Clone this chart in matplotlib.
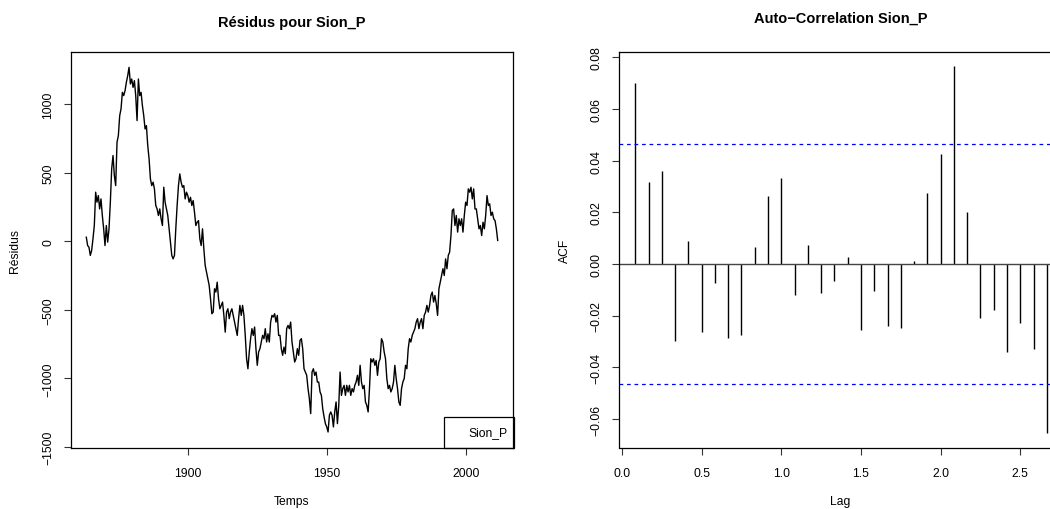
import numpy as np
import matplotlib
matplotlib.use("Agg")
import matplotlib.pyplot as plt
from matplotlib.patches import Rectangle

plt.rcParams['font.family'] = ['Liberation Sans', 'DejaVu Sans']

# residuals of Sion_P (about two points per year)
residus = [29, -32, -44, -104, -68, 17, 114, 357, 284, 332, 235, 308, 187, 90, -32, 114,
           -7, 90, 284, 527, 624, 478, 405, 721, 769, 915, 964, 1085, 1061, 1097, 1158, 1206,
           1267, 1146, 1182, 1121, 1170, 1061, 879, 1182, 1061, 1085, 988, 915, 818, 842, 697, 600,
           454, 405, 430, 381, 260, 235, 187, 235, 163, 114, 393, 284, 235, 187, 90, -7,
           -104, -129, -104, 90, 260, 405, 490, 430, 393, 405, 308, 357, 332, 284, 320, 260,
           296, 211, 114, 138, 150, 17, -32, 90, -56, -177, -226, -274, -323, -420, -529, -517,
           -347, -371, -299, -420, -493, -468, -444, -541, -663, -517, -493, -565, -517, -493, -541, -590,
           -638, -687, -565, -468, -541, -468, -541, -687, -857, -930, -808, -711, -638, -687, -626, -784,
           -905, -808, -784, -735, -687, -711, -638, -735, -675, -735, -590, -541, -553, -529, -590, -541,
           -687, -687, -784, -832, -772, -820, -638, -614, -638, -590, -735, -808, -881, -857, -784, -832,
           -723, -711, -784, -930, -954, -978, -1075, -1148, -1257, -954, -930, -978, -954, -1027, -1027, -1099,
           -1124, -1221, -1281, -1330, -1354, -1391, -1269, -1245, -1269, -1354, -1245, -1172, -1330, -1197, -954, -1124,
           -1075, -1051, -1124, -1051, -1099, -1051, -1124, -1075, -1099, -1051, -1027, -978, -1051, -905, -1027, -1075,
           -1051, -1172, -1197, -1245, -1075, -857, -881, -857, -905, -869, -978, -881, -857, -711, -735, -808,
           -857, -1002, -1075, -1051, -1099, -1075, -1027, -905, -1002, -1075, -1172, -1197, -1075, -1027, -1002, -905,
           -930, -784, -711, -735, -687, -663, -638, -590, -565, -638, -590, -565, -638, -541, -517, -468,
           -517, -468, -396, -371, -444, -396, -456, -541, -347, -299, -250, -201, -250, -129, -201, -104,
           -80, 41, 223, 235, 114, 187, 66, 163, 114, 163, 66, 187, 284, 260, 381, 357,
           393, 308, 381, 235, 235, 163, 90, 114, 41, 138, 90, 187, 332, 260, 272, 187,
           211, 163, 150, 90, 5]
annee_debut, annee_fin = 1863.5, 2011.4
temps = np.linspace(annee_debut, annee_fin, len(residus))

# ACF of the residuals, lags 1..32 months (in years)
acf_vals = [0.0699, 0.0316, 0.0359, -0.0297, 0.0090, -0.0262, -0.0075, -0.0286,
            -0.0274, 0.0065, 0.0265, 0.0332, -0.0119, 0.0075, -0.0112, -0.0067,
            0.0026, -0.0254, -0.0106, -0.0239, -0.0246, 0.0010, 0.0275, 0.0426,
            0.0765, 0.0203, -0.0208, -0.0178, -0.0339, -0.0230, -0.0329, -0.0655]
lags = np.arange(1, len(acf_vals) + 1) / 12.0
conf = 0.0466

W, H = 1050, 510
fig = plt.figure(figsize=(W / 100, H / 100), dpi=100)

def px_axes(x0, x1, ytop, ybot):
    return fig.add_axes([x0 / W, 1 - ybot / H, (x1 - x0) / W, (ybot - ytop) / H])

tick_kw = dict(labelsize=8.7, length=5, width=0.8, pad=9, color='#333333')

def labels(ax, xl, yl, yx):
    ax.set_xlabel(xl, fontsize=8.7)
    ax.set_ylabel(yl, fontsize=8.7)
    ax.xaxis.label.set_va('center')
    ax.yaxis.label.set_va('center')
    ax.xaxis.set_label_coords(0.5, -0.135)
    ax.yaxis.set_label_coords(yx, 0.5)

# ---- left panel: residuals
ax1 = px_axes(71, 513, 52.7, 448.5)
ax1.plot(temps, residus, color='black', lw=1.0)
ax1.set_xlim(1858.0, 2016.9)
ax1.set_ylim(-1504, 1381)
ax1.set_xticks([1900, 1950, 2000])
ax1.set_yticks([-1500, -1000, -500, 0, 500, 1000])
ax1.set_yticklabels(['\u22121500', '\u22121000', '\u2212500', '0', '500', '1000'], rotation=90, va='center')
ax1.tick_params(**tick_kw)
ax1.tick_params(axis='y', pad=7)
for s in ax1.spines.values():
    s.set_linewidth(0.9)
labels(ax1, 'Temps', 'Résidus', -0.127)
ax1.text(0.5, 1.064, 'Résidus pour Sion_P', transform=ax1.transAxes, ha='center',
         va='baseline', fontsize=10.5, fontweight='bold')
ax1.add_patch(Rectangle((0.843, 0.0), 0.16, 0.0763, transform=ax1.transAxes,
                        fill=False, lw=0.9, ec='black', clip_on=False))
ax1.text(0.988, 0.038, 'Sion_P', transform=ax1.transAxes, ha='right', va='center', fontsize=8.7)

# ---- right panel: ACF (runs past the right edge of the figure)
ax2 = px_axes(619.3, 1062, 52.7, 448.5)
ax2.vlines(lags, 0, acf_vals, color='black', lw=1.0)
ax2.axhline(0, color='#444444', lw=1.0)
ax2.axhline(conf, color='blue', lw=0.9, ls=(0, (3, 3)))
ax2.axhline(-conf, color='blue', lw=0.9, ls=(0, (3, 3)))
ax2.set_xlim(-0.017, 2.762)
ax2.set_ylim(-0.0710, 0.0822)
ax2.set_xticks([0.0, 0.5, 1.0, 1.5, 2.0, 2.5])
ax2.set_xticklabels(['0.0', '0.5', '1.0', '1.5', '2.0', '2.5'])
yt = [-0.06, -0.04, -0.02, 0.0, 0.02, 0.04, 0.06, 0.08]
ax2.set_yticks(yt)
ax2.set_yticklabels([('%.2f' % v).replace('-', '\u2212') for v in yt], rotation=90, va='center')
ax2.tick_params(**tick_kw)
ax2.tick_params(axis='y', pad=7)
for s in ax2.spines.values():
    s.set_linewidth(0.9)
labels(ax2, 'Lag', 'ACF', -0.1227)
ax2.text(0.5, 1.076, 'Auto\u2212Correlation Sion_P', transform=ax2.transAxes, ha='center',
         va='baseline', fontsize=10.5, fontweight='bold')

fig.savefig('out.png', dpi=100)
